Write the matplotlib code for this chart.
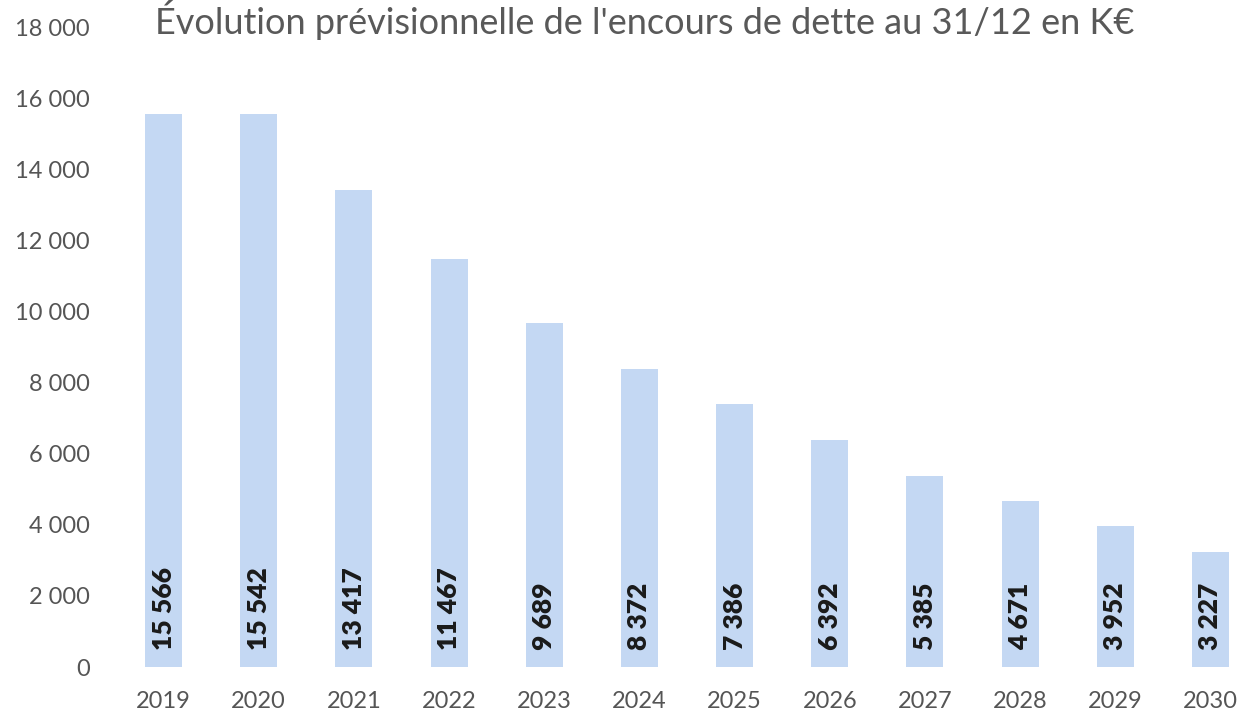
import matplotlib.pyplot as plt
import numpy as np

years = ["2019", "2020", "2021", "2022", "2023", "2024",
         "2025", "2026", "2027", "2028", "2029", "2030"]
encours = [15566, 15542, 13417, 11467, 9689, 8372,
           7386, 6392, 5385, 4671, 3952, 3227]
yticks = np.arange(0, 18001, 2000)
title = "Évolution prévisionnelle de l'encours de dette au 31/12 en K€"


def fmt(value):
    return f"{value:,}".replace(",", " ")


plt.rcParams["font.family"] = ["Lato", "DejaVu Sans"]

fig = plt.figure(figsize=(12.39, 7.17), dpi=100)
# plot area runs a little past the right edge, like the cropped original
ax = fig.add_axes([116 / 1239, 50 / 717, 1142 / 1239, 640 / 717])

x = np.arange(len(years))
bars = ax.bar(x, encours, width=0.39, color="#c4d8f3")

for rect, value in zip(bars, encours):
    ax.annotate(fmt(value), (rect.get_x() + rect.get_width() / 2, 0),
                xytext=(0, 12), textcoords="offset points",
                rotation=90, ha="center", va="bottom",
                fontsize=19, fontweight="heavy", color="#1a1a1a")

ax.set_xlim(-0.5, len(years) - 0.5)
ax.set_ylim(0, 18000)
ax.set_xticks(x, years)
ax.set_yticks(yticks, [fmt(v) for v in yticks])
ax.tick_params(length=0, labelsize=17, colors="#555555")
ax.tick_params(axis="y", pad=19)
ax.tick_params(axis="x", pad=17)
for spine in ax.spines.values():
    spine.set_visible(False)

fig.text(645 / 1239, 1.0, title, ha="center", va="top",
         fontsize=26, color="#595959")

fig.savefig("out.png", dpi=100)
